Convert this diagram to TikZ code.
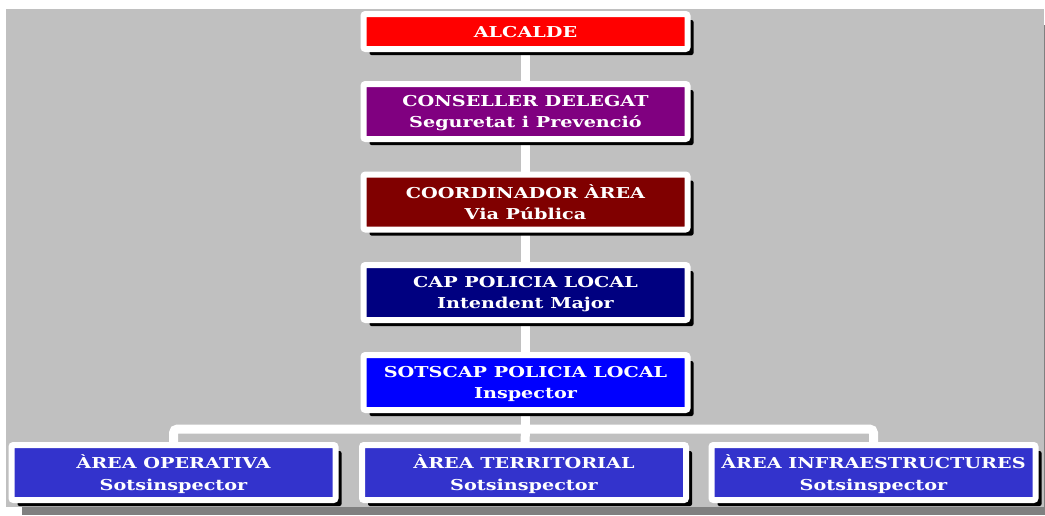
\documentclass[tikz,border=0pt]{standalone}
\usepackage{fontspec}
\setmainfont{DejaVu Serif}[FakeStretch=1.28]
\usetikzlibrary{shadows,backgrounds}
\definecolor{bggray}{HTML}{C0C0C0}
\definecolor{bgshadow}{HTML}{808080}
\definecolor{cRed}{HTML}{FF0000}
\definecolor{cPurple}{HTML}{800080}
\definecolor{cMaroon}{HTML}{800000}
\definecolor{cNavy}{HTML}{000080}
\definecolor{cBlue}{HTML}{0000FF}
\definecolor{cArea}{HTML}{3333CC}
\tikzset{
  orgbox/.style={draw=white, line width=6pt, rounded corners=2pt, inner sep=0pt,
    minimum width=324pt, minimum height=55pt, align=center, text=white,
    text depth=0pt,
    font=\fontsize{15}{21.5}\selectfont\bfseries,
    drop shadow={shadow xshift=6pt, shadow yshift=-6pt, fill=black, opacity=1}},
  conn/.style={draw=white, line width=9pt},
}
\begin{document}
\begin{tikzpicture}[x=1pt,y=-1pt]
\useasboundingbox (0,0) rectangle (1045,515);
\begin{scope}[on background layer]
\fill[bgshadow] (22,25) rectangle (1045,515);
\fill[bggray] (6,9) rectangle (1044,507);
\end{scope}
\coordinate (bar) at (525.5,429);
\node[orgbox, fill=cRed, minimum height=35pt] (alc) at (525.5,31.5) {ALCALDE};
\node[orgbox, fill=cPurple] (cons) at (525.5,111.5) {CONSELLER DELEGAT\\Seguretat i Prevenció};
\node[orgbox, fill=cMaroon] (coord) at (525.5,202) {COORDINADOR ÀREA\\Via Pública};
\node[orgbox, fill=cNavy] (cap) at (525.5,292.5) {CAP POLICIA LOCAL\\Intendent Major};
\node[orgbox, fill=cBlue] (sots) at (525.5,382.5) {SOTSCAP POLICIA LOCAL\\Inspector};
\node[orgbox, fill=cArea] (oper) at (173.5,472.5) {ÀREA OPERATIVA\\Sotsinspector};
\node[orgbox, fill=cArea] (terr) at (524,472.5) {ÀREA TERRITORIAL\\Sotsinspector};
\node[orgbox, fill=cArea] (infra) at (873.5,472.5) {ÀREA INFRAESTRUCTURES\\Sotsinspector};
\begin{scope}[on background layer]
\draw[conn] (alc.center) -- (cons.center);
\draw[conn] (cons.center) -- (coord.center);
\draw[conn] (coord.center) -- (cap.center);
\draw[conn] (cap.center) -- (sots.center);
\draw[conn] (sots.center) -- (bar);
\draw[conn] (bar) -- (terr.center);
\draw[conn, rounded corners=4pt] (oper.center) |- (bar) -| (infra.center);
\end{scope}
\end{tikzpicture}
\end{document}
